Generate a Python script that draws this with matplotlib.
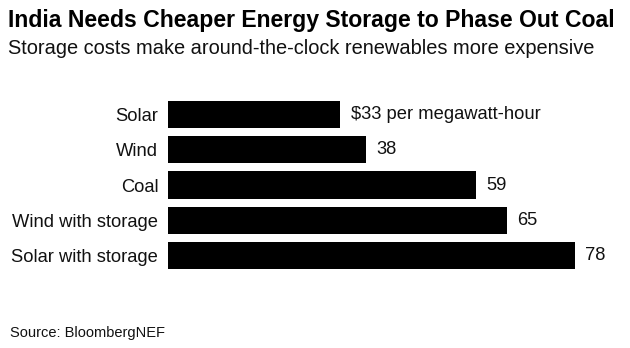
import matplotlib
matplotlib.use("Agg")
import matplotlib.pyplot as plt

categories = ["Solar", "Wind", "Coal", "Wind with storage", "Solar with storage"]
values = [33, 38, 59, 65, 78]
value_labels = ["$33 per megawatt-hour", "38", "59", "65", "78"]

title = "India Needs Cheaper Energy Storage to Phase Out Coal"
subtitle = "Storage costs make around-the-clock renewables more expensive"
source = "Source: BloombergNEF"

plt.rcParams['font.family'] = ['Liberation Sans', 'DejaVu Sans']

fig = plt.figure(figsize=(6.3, 3.48), dpi=100)
fig.patch.set_facecolor("white")
ax = fig.add_axes([168/630, 1-269/348, 407/630, 168/348])

ypos = list(range(len(categories)))
ax.barh(ypos, values, height=0.77, color="black")
ax.set_xlim(0, 78)
ax.set_ylim(len(categories) - 1 + 0.385, -0.385)
ax.set_yticks(ypos)
ax.set_yticklabels(categories, fontsize=13.2, color="#111111")
ax.tick_params(axis="y", length=0, pad=7)
ax.set_xticks([])
for s in ax.spines.values():
    s.set_visible(False)

for y, v, lab in zip(ypos, values, value_labels):
    ax.text(v + 2, y, lab, va="center", ha="left", fontsize=13.2, color="#111111")

fig.text(8/630, 1-21/348, title, fontsize=16.6, fontweight="bold", va="center", ha="left", color="black")
fig.text(8/630, 1-49/348, subtitle, fontsize=14.4, va="center", ha="left", color="#111111")
fig.text(10/630, 1-333/348, source, fontsize=10.5, va="center", ha="left", color="#111111")

fig.savefig("out.png", dpi=100, facecolor="white")
